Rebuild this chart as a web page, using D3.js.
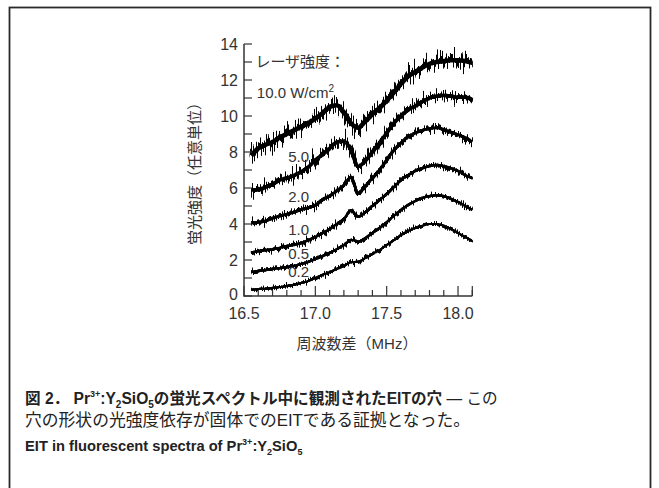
<!DOCTYPE html>
<html>
<head>
<meta charset="utf-8">
<script src="https://cdn.jsdelivr.net/npm/d3@7"></script>
<style>
  html, body { margin: 0; padding: 0; background: #fff; }
  svg { display: block; }
</style>
</head>
<body>
<svg id="chart" width="659" height="488"></svg>
<script>
// ---- data ----
const freqs = [16.55, 16.6, 16.65, 16.7, 16.75, 16.8, 16.85, 16.9, 16.95, 17.0,
               17.05, 17.1, 17.15, 17.2, 17.25, 17.3, 17.35, 17.4, 17.45, 17.5,
               17.55, 17.6, 17.65, 17.7, 17.75, 17.8, 17.85, 17.9, 17.95, 18.0,
               18.05, 18.1];

const laser10 = [7.8, 8.2, 8.4, 8.55, 8.8, 9.0, 9.2, 9.4, 9.6, 9.85,
                 10.15, 10.5, 10.6, 10.2, 9.6, 9.35, 9.7, 10.1, 10.45, 10.85,
                 11.3, 11.8, 12.2, 12.45, 12.7, 12.9, 13.0, 13.05, 13.1, 13.1,
                 13.05, 12.95];
const laser5 = [5.9, 5.9, 6.05, 6.2, 6.45, 6.55, 6.7, 6.9, 7.15, 7.55,
                7.85, 8.2, 8.55, 8.6, 8.1, 7.2, 7.5, 8.0, 8.5, 9.05,
                9.6, 10.0, 10.35, 10.55, 10.8, 11.0, 11.1, 11.15, 11.1, 11.05,
                11.05, 10.9];
const laser2 = [4.05, 4.1, 4.17, 4.33, 4.45, 4.55, 4.65, 4.8, 4.9, 5.05,
                5.35, 5.55, 5.85, 6.15, 6.6, 5.7, 6.1, 6.55, 7.0, 7.55,
                8.1, 8.5, 8.85, 9.05, 9.2, 9.3, 9.35, 9.25, 9.1, 8.95,
                8.8, 8.55];
const laser1 = [2.4, 2.5, 2.55, 2.6, 2.67, 2.78, 2.83, 2.95, 3.1, 3.28,
                3.5, 3.72, 4.0, 4.28, 4.75, 4.4, 4.65, 5.0, 5.33, 5.67,
                6.05, 6.45, 6.72, 6.95, 7.1, 7.22, 7.28, 7.22, 7.1, 6.95,
                6.72, 6.55];
const laser05 = [1.33, 1.39, 1.44, 1.5, 1.55, 1.6, 1.67, 1.78, 1.9, 2.05,
                 2.22, 2.4, 2.6, 2.83, 3.12, 3.02, 3.22, 3.5, 3.78, 4.1,
                 4.45, 4.78, 5.05, 5.28, 5.45, 5.55, 5.6, 5.55, 5.4, 5.22,
                 5.0, 4.78];
const laser02 = [0.33, 0.39, 0.4, 0.45, 0.5, 0.55, 0.62, 0.72, 0.83, 1.0,
                 1.17, 1.33, 1.5, 1.67, 1.88, 1.9, 2.1, 2.33, 2.55, 2.83,
                 3.1, 3.38, 3.6, 3.78, 3.9, 4.0, 4.0, 3.9, 3.72, 3.5,
                 3.28, 3.05];

const seriesLabels = ['10.0', '5.0', '2.0', '1.0', '0.5', '0.2'];
const seriesValues = [laser10, laser5, laser2, laser1, laser05, laser02];
// label anchors in data units (frequency, intensity)
const labelFreq = [16.59, 16.81, 16.81, 16.81, 16.81, 16.81];
const labelLevel = [11.0, 7.44, 5.22, 3.39, 2.06, 1.06];

const xTicksMajor = [16.5, 17.0, 17.5, 18.0];
const xTicksMinor = [16.6, 16.7, 16.8, 16.9, 17.1, 17.2, 17.3, 17.4, 17.6, 17.7, 17.8, 17.9, 18.1];
const yTicks = d3.range(0, 15, 1);
const yTickLabels = [0, 2, 4, 6, 8, 10, 12, 14];

// ---- style ----
const noiseScale = [40, 30, 19, 14, 12, 10];   // displacement (px) to mimic the measurement noise
const strokeW = [4.6, 3.8, 3.0, 2.6, 2.4, 2.1];
const ink = '#333';

const svg = d3.select('#chart');

// outer frame
svg.append('rect')
  .attr('x', 9.5).attr('y', 7.5)
  .attr('width', 641).attr('height', 500)
  .attr('fill', 'none').attr('stroke', '#2a2a2a').attr('stroke-width', 1.8);

const x = d3.scaleLinear().domain([16.5, 18.1]).range([244, 472.3]);
const y = d3.scaleLinear().domain([0, 14]).range([296, 44]);

// noise filters: stacked displacements so every spike stays attached to the trace
const defs = svg.append('defs');
const steps = [1, 0.8, 0.6, 0.4, 0.2];
noiseScale.forEach((s, i) => {
  const f = defs.append('filter')
    .attr('id', 'noise' + i)
    .attr('filterUnits', 'userSpaceOnUse')
    .attr('x', 230).attr('y', 20).attr('width', 260).attr('height', 300)
    .attr('color-interpolation-filters', 'sRGB');
  f.append('feTurbulence')
    .attr('type', 'fractalNoise')
    .attr('baseFrequency', '0.9 0.01')
    .attr('numOctaves', 2)
    .attr('seed', i * 7 + 3)
    .attr('result', 'turb');
  f.append('feColorMatrix')
    .attr('in', 'turb').attr('type', 'matrix')
    .attr('values', '1 0 0 0 0  0 0 0 0 0.5  0 0 0 0 0  0 0 0 0 1')
    .attr('result', 'map');
  steps.forEach((k, j) => {
    f.append('feDisplacementMap')
      .attr('in', 'SourceGraphic').attr('in2', 'map')
      .attr('scale', s * k)
      .attr('xChannelSelector', 'G').attr('yChannelSelector', 'R')
      .attr('result', 'd' + j);
  });
  const m = f.append('feMerge');
  steps.forEach((k, j) => m.append('feMergeNode').attr('in', 'd' + j));
  m.append('feMergeNode').attr('in', 'SourceGraphic');
});

// curves
const line = d3.line()
  .x(d => x(d[0]))
  .y(d => y(d[1]))
  .curve(d3.curveMonotoneX);

seriesValues.forEach((vals, i) => {
  svg.append('path')
    .datum(freqs.map((f, j) => [f, vals[j]]))
    .attr('d', line)
    .attr('fill', 'none')
    .attr('stroke', '#000')
    .attr('stroke-width', strokeW[i])
    .attr('stroke-linejoin', 'round')
    .attr('filter', `url(#noise${i})`);
});

// axes
const axisG = svg.append('g').attr('stroke', ink).attr('stroke-width', 1.5);
axisG.append('line')
  .attr('x1', x(16.5)).attr('x2', x(16.5))
  .attr('y1', y(14)).attr('y2', y(0) + 0.75);
axisG.append('line')
  .attr('x1', x(16.5)).attr('x2', x(18.1))
  .attr('y1', y(0)).attr('y2', y(0));

yTicks.forEach(t => {
  axisG.append('line')
    .attr('x1', x(16.5)).attr('x2', x(16.5) + 8)
    .attr('y1', y(t)).attr('y2', y(t))
    .attr('stroke-width', 1.2);
});
xTicksMajor.concat([18.1]).forEach(t => {
  axisG.append('line')
    .attr('x1', x(t)).attr('x2', x(t))
    .attr('y1', y(0)).attr('y2', y(0) - 10)
    .attr('stroke-width', 1.2);
});
xTicksMinor.forEach(t => {
  axisG.append('line')
    .attr('x1', x(t)).attr('x2', x(t))
    .attr('y1', y(0)).attr('y2', y(0) - 6)
    .attr('stroke-width', 1.2);
});

const latin = '"Liberation Sans", Arial, sans-serif';
const cjk = '"Liberation Sans", "Noto Sans CJK JP", sans-serif';

yTickLabels.forEach(t => {
  svg.append('text')
    .attr('x', 238).attr('y', y(t)).attr('dy', t === 0 ? '0.28em' : '0.36em')
    .attr('text-anchor', 'end')
    .attr('font-family', latin).attr('font-size', 16).attr('fill', ink)
    .text(t);
});
xTicksMajor.forEach(t => {
  svg.append('text')
    .attr('x', x(t)).attr('y', 318.5)
    .attr('text-anchor', 'middle')
    .attr('font-family', latin).attr('font-size', 16).attr('fill', ink)
    .text(t.toFixed(1));
});

// axis titles
svg.append('text')
  .attr('x', 357).attr('y', 349)
  .attr('text-anchor', 'middle')
  .attr('font-family', cjk).attr('font-size', 15).attr('fill', ink)
  .text('周波数差（MHz）');

svg.append('text')
  .attr('transform', 'translate(200,170) rotate(-90)')
  .attr('text-anchor', 'middle')
  .attr('font-family', cjk).attr('font-size', 15).attr('fill', ink)
  .text('蛍光強度（任意単位）');

// in-plot labels
svg.append('text')
  .attr('x', x(16.58)).attr('y', y(12.72))
  .attr('font-family', cjk).attr('font-size', 15).attr('fill', ink)
  .text('レーザ強度：');

seriesLabels.forEach((lab, i) => {
  const t = svg.append('text')
    .attr('x', x(labelFreq[i])).attr('y', y(labelLevel[i]))
    .attr('font-family', latin).attr('font-size', 15).attr('fill', ink)
    .text(lab);
  if (i === 0) {
    t.append('tspan').text(' W/cm');
    t.append('tspan').attr('dy', -6).attr('font-size', 10).text('2');
  }
});

// caption
const cap1 = svg.append('text')
  .attr('x', 25).attr('y', 404)
  .attr('font-family', cjk).attr('font-size', 15.6).attr('font-weight', 'bold').attr('fill', '#222');
cap1.append('tspan').text('図 2． Pr');
cap1.append('tspan').attr('dy', -7).attr('font-size', 9).text('3+');
cap1.append('tspan').attr('dy', 7).text(':Y');
cap1.append('tspan').attr('dy', 4).attr('font-size', 10).text('2');
cap1.append('tspan').attr('dy', -4).text('SiO');
cap1.append('tspan').attr('dy', 4).attr('font-size', 10).text('5');
cap1.append('tspan').attr('dy', -4).text('の蛍光スペクトル中に観測されたEITの穴 ');
cap1.append('tspan').attr('font-weight', 'normal').text('— この');

svg.append('text')
  .attr('x', 25).attr('y', 426)
  .attr('font-family', cjk).attr('font-size', 17).attr('fill', '#222')
  .attr('textLength', 445).attr('lengthAdjust', 'spacingAndGlyphs')
  .text('穴の形状の光強度依存が固体でのEITである証拠となった。');

const cap3 = svg.append('text')
  .attr('x', 25).attr('y', 451)
  .attr('font-family', latin).attr('font-size', 14.7).attr('font-weight', 'bold').attr('fill', '#222');
cap3.append('tspan').text('EIT in fluorescent spectra of Pr');
cap3.append('tspan').attr('dy', -6).attr('font-size', 9).text('3+');
cap3.append('tspan').attr('dy', 6).text(':Y');
cap3.append('tspan').attr('dy', 4).attr('font-size', 9).text('2');
cap3.append('tspan').attr('dy', -4).text('SiO');
cap3.append('tspan').attr('dy', 4).attr('font-size', 9).text('5');
</script>
</body>
</html>
